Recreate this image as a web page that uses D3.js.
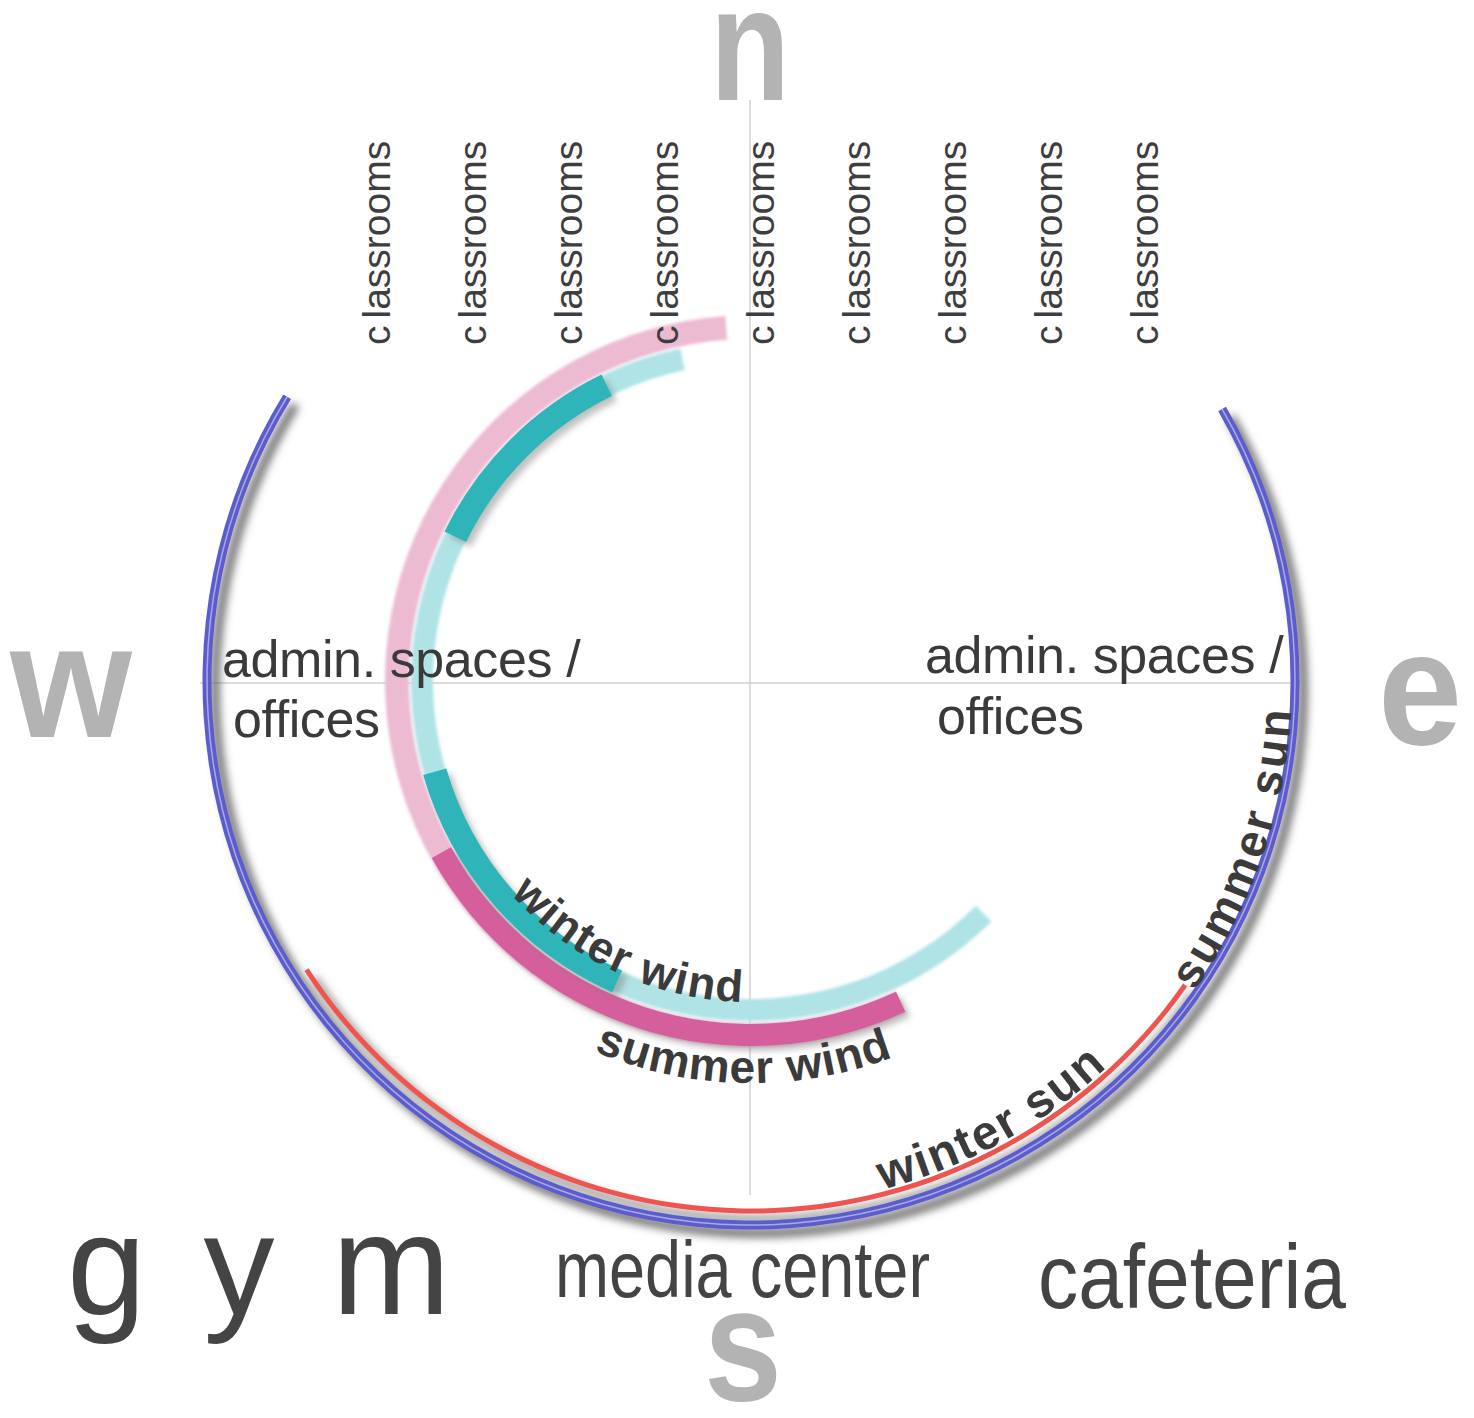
<!DOCTYPE html>
<html>
<head>
<meta charset="utf-8">
<script src="https://cdn.jsdelivr.net/npm/d3@7"></script>
<style>
  body { margin: 0; background: #fff; }
  svg { display: block; }
</style>
</head>
<body>
<div id="chart"></div>
<script>
// compass + site diagram: sun paths and prevailing winds around the school
const w = 1474;
const h = 1418;

// data
const directions = ["n", "e", "s", "w"];
const northSpaces = ["classrooms", "classrooms", "classrooms", "classrooms", "classrooms",
                     "classrooms", "classrooms", "classrooms", "classrooms"];
const sideSpaces = ["admin. spaces /", "offices"];
const southSpaces = ["g y m", "media center", "cafeteria"];

// arcs as compass bearings (degrees clockwise from north)
const summerSun = [60, 301.5];
const winterSun = [125, 237];
const summerWind = [155, 356];
const summerWindStrong = [[155, 241]];
const winterWind = [135, 348];
const winterWindStrong = [[204, 254], [296, 334]];
const arcLabels = ["summer sun", "winter sun", "summer wind", "winter wind"];

const cx = 751, cy = 681;

const svg = d3.select("#chart").append("svg")
              .attr("width", w)
              .attr("height", h);

const defs = svg.append("defs");
defs.append("filter").attr("id", "shadow")
    .attr("x", "-20%").attr("y", "-20%").attr("width", "140%").attr("height", "140%")
    .append("feDropShadow")
    .attr("dx", 8).attr("dy", 8).attr("stdDeviation", 4)
    .attr("flood-color", "#666").attr("flood-opacity", 0.95);
defs.append("filter").attr("id", "soft")
    .attr("x", "-20%").attr("y", "-20%").attr("width", "140%").attr("height", "140%")
    .append("feDropShadow")
    .attr("dx", 5).attr("dy", 5).attr("stdDeviation", 3)
    .attr("flood-color", "#777").attr("flood-opacity", 0.45);
defs.append("filter").attr("id", "blur")
    .append("feGaussianBlur").attr("stdDeviation", 1.5);

const deg = d3.scaleLinear().domain([0, 360]).range([0, 2 * Math.PI]);

const band = (r, width) => d3.arc()
    .innerRadius(r - width / 2)
    .outerRadius(r + width / 2)
    .startAngle(d => deg(d[0]))
    .endAngle(d => deg(d[1]));

// crosshair
svg.append("line")
   .attr("x1", 750).attr("x2", 750).attr("y1", 100).attr("y2", 1195)
   .attr("stroke", "#d0d0d0").attr("stroke-width", 1.5);
svg.append("line")
   .attr("x1", 200).attr("x2", 1300).attr("y1", 683).attr("y2", 683)
   .attr("stroke", "#d0d0d0").attr("stroke-width", 1.5);

const g = svg.append("g").attr("transform", `translate(${cx},${cy})`);

// winds
g.append("path").datum(summerWind)
 .attr("d", band(354, 24))
 .attr("fill", "#ecbad1")
 .attr("filter", "url(#blur)");
g.selectAll(".summer-strong")
 .data(summerWindStrong)
 .enter()
 .append("path")
 .attr("class", "summer-strong")
 .attr("d", band(354, 22))
 .attr("fill", "#d45f9c")
 .attr("filter", "url(#soft)");

g.append("path").datum(winterWind)
 .attr("d", band(329, 22))
 .attr("fill", "#afe3e5")
 .attr("filter", "url(#blur)");
g.selectAll(".winter-strong")
 .data(winterWindStrong)
 .enter()
 .append("path")
 .attr("class", "winter-strong")
 .attr("d", band(329, 24))
 .attr("fill", "#2eb4b9")
 .attr("filter", "url(#soft)");

// sun paths
const sun = g.append("g").attr("filter", "url(#shadow)");
sun.append("path").datum(winterSun)
   .attr("d", band(530, 5))
   .attr("fill", "#ee5450");
sun.append("path").datum(summerSun)
   .attr("d", band(544, 9))
   .attr("fill", "#5c5cca");
sun.append("path").datum(summerSun)
   .attr("d", band(544, 1.5))
   .attr("fill", "#a9a9ec");

// labels along the arcs
const arcLayout = {
  "summer sun":  {r: 541, a0: 125, a1: 86, size: 46, ls: 3},
  "winter sun":  {r: 525, a0: 165.5, a1: 130, size: 48, ls: 2},
  "summer wind": {r: 402, a0: 203, a1: 155, size: 46, ls: 1},
  "winter wind": {r: 321, a0: 228.5, a1: 175, size: 45, ls: 1.5}
};

const labelLayer = svg.append("g").attr("transform", `translate(${cx},${cy})`);
arcLabels.forEach((name, i) => {
  const L = arcLayout[name];
  const p = d3.path();
  p.arc(0, 0, L.r, deg(L.a0) - Math.PI / 2, deg(L.a1) - Math.PI / 2, true);
  labelLayer.append("path")
      .attr("id", "lbl" + i)
      .attr("d", p.toString())
      .attr("fill", "none");
  labelLayer.append("text")
     .style("font-family", "'Liberation Sans', Arial, sans-serif")
     .style("font-weight", "bold")
     .style("font-size", L.size + "px")
     .style("letter-spacing", L.ls + "px")
     .attr("fill", "#3b3b3b")
     .append("textPath")
     .attr("href", "#lbl" + i)
     .text(name);
});

// classrooms along the north edge
const xNorth = d3.scalePoint()
    .domain(d3.range(northSpaces.length))
    .range([390, 1158]);

const north = svg.selectAll(".north")
   .data(northSpaces)
   .enter()
   .append("text")
   .attr("class", "north")
   .attr("transform", (d, i) => `translate(${xNorth(i)},345) rotate(-90)`)
   .style("font-family", "'Liberation Sans', Arial, sans-serif")
   .style("font-size", "39px")
   .attr("fill", "#3e3e3e");
north.append("tspan").text(d => d.slice(0, 1));
north.append("tspan").attr("dx", 7).text(d => d.slice(1));

// admin / offices on both sides
const sidePos = [
  {x: 222, y: 677, dx: 11, dy: 60},
  {x: 925, y: 673, dx: 12, dy: 61}
];
sidePos.forEach(pos => {
  svg.selectAll(null)
     .data(sideSpaces)
     .enter()
     .append("text")
     .attr("x", (d, i) => pos.x + i * pos.dx)
     .attr("y", (d, i) => pos.y + i * pos.dy)
     .style("font-family", "'Liberation Sans', Arial, sans-serif")
     .style("font-size", "52px")
     .style("letter-spacing", "-0.4px")
     .attr("fill", "#3a3a3a")
     .text(d => d);
});

// spaces along the south edge (condensed lettering)
const southLayout = [
  {x: 67, y: 1314, size: 142, ls: 9, len: null},
  {x: 555, y: 1297, size: 80, ls: 0, len: 375},
  {x: 1038, y: 1308, size: 90, ls: 0, len: 308}
];
const south = svg.selectAll(".south")
   .data(southSpaces)
   .enter()
   .append("text")
   .attr("class", "south")
   .attr("x", (d, i) => southLayout[i].x)
   .attr("y", (d, i) => southLayout[i].y)
   .style("font-family", "'Liberation Sans', Arial, sans-serif")
   .style("font-size", (d, i) => southLayout[i].size + "px")
   .style("letter-spacing", (d, i) => southLayout[i].ls + "px")
   .attr("fill", "#444")
   .text(d => d);
south.filter((d, i) => southLayout[i].len)
     .attr("textLength", (d, i, n) => southLayout[southSpaces.indexOf(d)].len)
     .attr("lengthAdjust", "spacingAndGlyphs");

// compass letters
const compassPos = {
  n: [710, 100, 80],
  e: [1378, 744, 84],
  s: [704, 1400, 78],
  w: [10, 737, 122]
};
svg.selectAll(".dir")
   .data(directions)
   .enter()
   .append("text")
   .attr("class", "dir")
   .attr("x", d => compassPos[d][0])
   .attr("y", d => compassPos[d][1])
   .attr("textLength", d => compassPos[d][2])
   .attr("lengthAdjust", "spacingAndGlyphs")
   .style("font-family", "'Liberation Sans', Arial, sans-serif")
   .style("font-weight", "bold")
   .style("font-size", "162px")
   .attr("fill", "#b3b3b3")
   .text(d => d);
</script>
</body>
</html>
